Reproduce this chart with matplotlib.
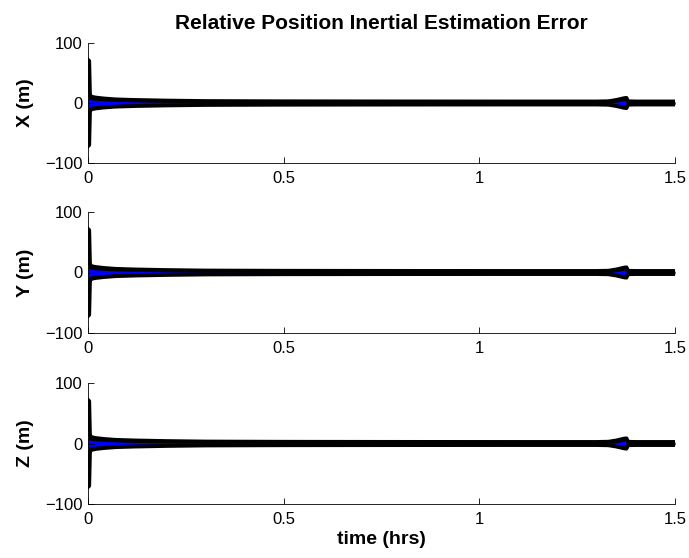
import matplotlib
matplotlib.use('Agg')
import matplotlib.pyplot as plt
import numpy as np

plt.rcParams['font.family'] = ['Liberation Sans', 'DejaVu Sans']

# time knots (hrs) for the 3-sigma bounds
t_bound = [0.0, 0.003, 0.005, 0.008, 0.012, 0.02, 0.04, 0.07, 0.12, 0.2, 0.3,
           0.5, 0.8, 1.1, 1.3, 1.33, 1.35, 1.37, 1.376, 1.38, 1.4, 1.5]
bound_x = [72, 70, 13, 11, 10, 9, 7.5, 6, 5, 4, 3.2,
           2.8, 2.6, 2.5, 2.5, 2.9, 5.0, 8.0, 8.5, 2.8, 2.5, 2.5]
bound_y = [72, 70, 13, 11, 10, 9, 7.5, 6, 5, 4, 3.2,
           2.8, 2.6, 2.5, 2.5, 2.9, 5.0, 8.0, 8.5, 2.8, 2.5, 2.5]
bound_z = [72, 70, 13, 11, 10, 9, 7.5, 6, 5, 4, 3.2,
           2.8, 2.6, 2.5, 2.5, 2.9, 5.0, 8.0, 8.5, 2.8, 2.5, 2.5]

# envelope of the estimation error (blue)
t_err = [0.0, 0.003, 0.01, 0.03, 0.06, 0.1, 0.15, 0.2, 0.3, 0.6, 1.0, 1.34,
         1.355, 1.37, 1.375, 1.378, 1.4, 1.5]
err_hi_x = [7, 6, 5, 4, 3, 2.2, 1.5, 1.0, 0.6, 0.5, 0.5, 0.5, 2.0, 4.0, 4.5, 0.6, 0.5, 0.5]
err_lo_x = [-9, -7, -5, -4, -3, -2.2, -1.5, -1.0, -0.6, -0.5, -0.5, -0.5, -2.0, -4.0, -4.5, -0.6, -0.5, -0.5]
err_hi_y = [8, 6, 5, 4, 3, 2.2, 1.5, 1.0, 0.6, 0.5, 0.5, 0.5, 2.0, 4.0, 4.5, 0.6, 0.5, 0.5]
err_lo_y = [-8, -7, -5, -4, -3, -2.2, -1.5, -1.0, -0.6, -0.5, -0.5, -0.5, -2.0, -4.0, -4.5, -0.6, -0.5, -0.5]
err_hi_z = [7, 6, 5, 4, 3, 2.2, 1.5, 1.0, 0.6, 0.5, 0.5, 0.5, 2.0, 4.0, 4.5, 0.6, 0.5, 0.5]
err_lo_z = [-7, -6, -5, -4, -3, -2.2, -1.5, -1.0, -0.6, -0.5, -0.5, -0.5, -2.0, -4.0, -4.5, -0.6, -0.5, -0.5]

labels = ['X (m)', 'Y (m)', 'Z (m)']
bounds = [bound_x, bound_y, bound_z]
errs = [(err_hi_x, err_lo_x), (err_hi_y, err_lo_y), (err_hi_z, err_lo_z)]

W, H = 689, 558
fig = plt.figure(figsize=(W / 100, H / 100), dpi=100)
left = 88 / W
width = (675 - 88) / W
tops = [43, 212, 383]
bots = [163, 333, 504]

for i in range(3):
    ax = fig.add_axes([left, 1 - bots[i] / H, width, (bots[i] - tops[i]) / H])
    b = np.array(bounds[i])
    ax.fill_between(t_bound, -b, b, color='black', linewidth=0)
    ax.plot(t_bound, b, color='black', linewidth=2.8)
    ax.plot(t_bound, -b, color='black', linewidth=2.8)
    hi, lo = errs[i]
    ax.fill_between(t_err, lo, hi, color='blue', linewidth=0)

    ax.set_xlim(0, 1.5)
    ax.set_ylim(-100, 100)
    ax.set_xticks([0, 0.5, 1, 1.5])
    ax.set_xticklabels(['0', '0.5', '1', '1.5'])
    ax.set_yticks([-100, 0, 100])
    ax.spines['top'].set_visible(False)
    ax.spines['right'].set_visible(False)
    ax.spines['left'].set_linewidth(0.6)
    ax.spines['bottom'].set_linewidth(0.6)
    ax.tick_params(direction='in', length=4, width=0.6, labelsize=12)
    ax.tick_params(axis='x', pad=6)
    ax.tick_params(axis='y', pad=4)
    ax.set_ylabel(labels[i], fontsize=14, fontweight='bold', labelpad=8)
    if i == 0:
        ax.set_title('Relative Position Inertial Estimation Error',
                     fontsize=15, fontweight='bold', pad=10)
    if i == 2:
        ax.set_xlabel('time (hrs)', fontsize=14, fontweight='bold', labelpad=3)

fig.savefig('out.png', dpi=100)
